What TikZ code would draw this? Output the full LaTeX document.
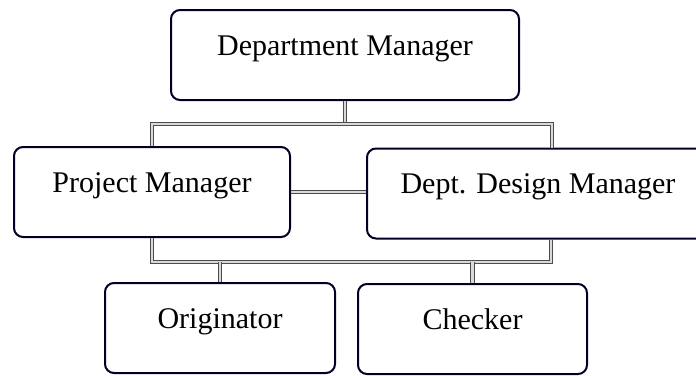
\documentclass[tikz,border=0pt]{standalone}
\usepackage{fontspec}
\setmainfont{Liberation Serif}
\usepackage{tikz}
\tikzset{
  box_font/.style = {font=\fontsize{15}{18}\selectfont},
  box_size/.style = {minimum height=45pt, text height=22.5pt, text depth=22.5pt, inner sep=0pt},
  box_outline/.style = {draw=black!85!blue, line width=1pt, rounded corners=4.5pt}
}
\tikzset{
  role/.style = {box_font, box_size, box_outline, align=center},
  link/.style = {draw=gray!60!black, line width=0.6pt, double=gray!30, double distance=1.2pt, line join=miter}
}
\usetikzlibrary{calc}

\begin{document}
\begin{tikzpicture}[x=0.5pt, y=-0.5pt]
        \useasboundingbox (0,0) rectangle (696,375);

        % Roles
        \node[role, minimum width=174pt] at (345,55) (dm) {Department Manager};
        \node[role, minimum width=138pt] at (152,192) (pm) {Project Manager};
        \node[role, minimum width=171pt] at (538,193.5) (ddm) {Dept. Design Manager};
        \node[role, minimum width=115pt] at (220,328) (orig) {Originator};
        \node[role, minimum width=114.5pt] at (472.5,329) (chk) {Checker};

        % Bar corners
        \coordinate (top_left) at (152,124);
        \coordinate (top_right) at (552,124);
        \coordinate (low_left) at (152,262);
        \coordinate (low_right) at (551,262);

        % Connectors
        \draw[link] (dm.south) -- (dm.south |- top_left);
        \draw[link] (pm.north) -- (top_left) -- (top_right) -- (top_right |- ddm.north);

        \draw[link] (pm.east) -- (pm.east -| ddm.west);

        \draw[link] (pm.south) -- (low_left) -- (low_right) -- (low_right |- ddm.south);
        \draw[link] (orig.north |- low_left) -- (orig.north);
        \draw[link] (chk.north |- low_left) -- (chk.north);
\end{tikzpicture}
\end{document}
